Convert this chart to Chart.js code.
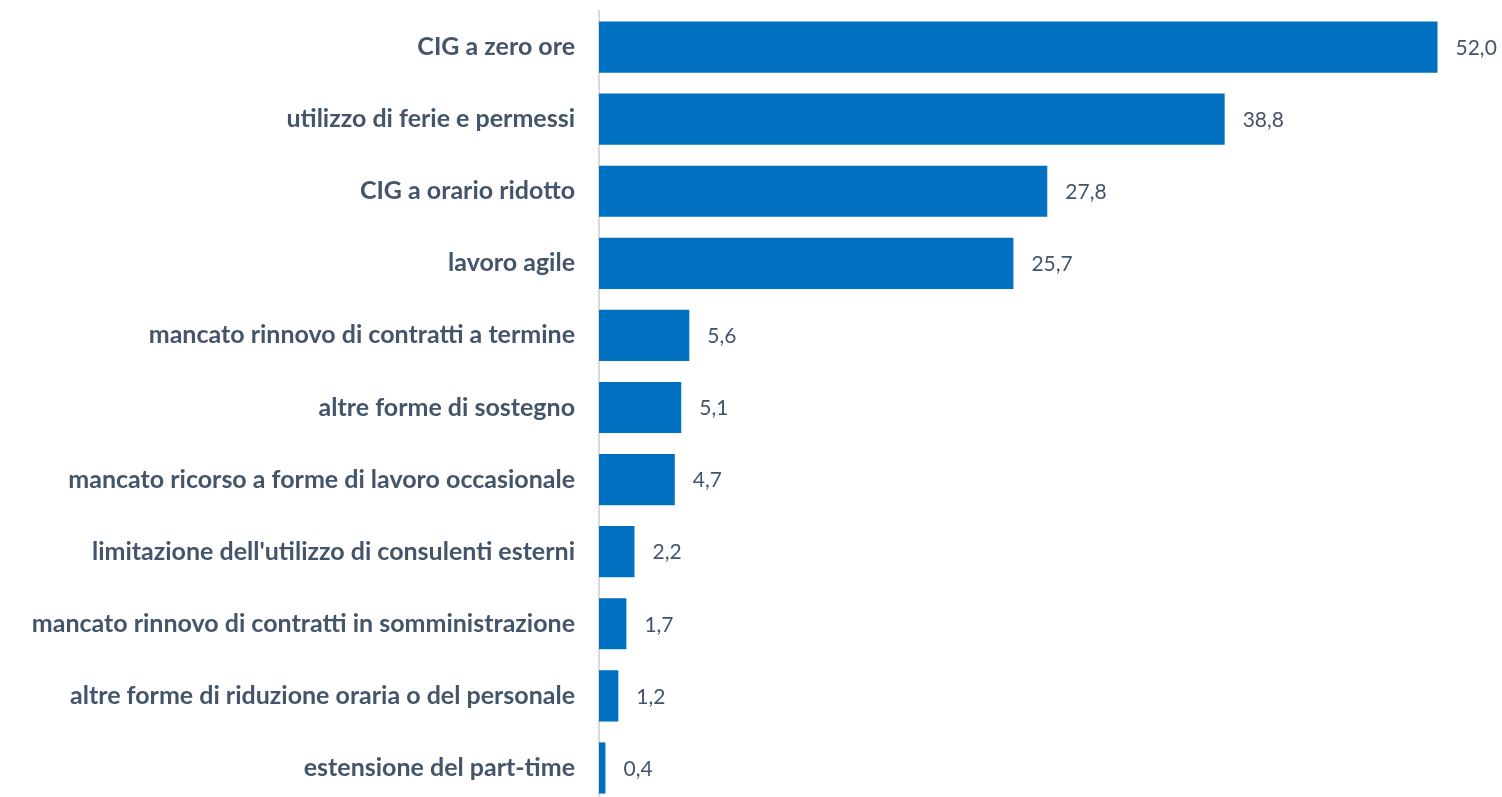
<!DOCTYPE html>
<html>
<head>
<meta charset="utf-8">
<script src="https://cdn.jsdelivr.net/npm/chart.js@4.4.0/dist/chart.umd.min.js"></script>
<style>
  html, body { margin: 0; padding: 0; background: #fff; overflow: hidden; }
  canvas { display: block; }
</style>
</head>
<body>
<canvas id="chart" width="1502" height="804"></canvas>
<script>
// categorie e valori (%)
const categories = [
  'CIG a zero ore',
  'utilizzo di ferie e permessi',
  'CIG a orario ridotto',
  'lavoro agile',
  'mancato rinnovo di contratti a termine',
  'altre forme di sostegno',
  'mancato ricorso a forme di lavoro occasionale',
  "limitazione dell'utilizzo di consulenti esterni",
  'mancato rinnovo di contratti in somministrazione',
  'altre forme di riduzione oraria o del personale',
  'estensione del part-time'
];
const values = [52.0, 38.8, 27.8, 25.7, 5.6, 5.1, 4.7, 2.2, 1.7, 1.2, 0.4];

const labelColor = '#44546A';

// etichette valori a destra delle barre
const valueLabels = {
  id: 'valueLabels',
  afterDatasetsDraw(chart) {
    const c = chart.ctx;
    const meta = chart.getDatasetMeta(0);
    c.save();
    c.font = '21px Lato, "Open Sans", sans-serif';
    c.fillStyle = labelColor;
    c.textAlign = 'left';
    c.textBaseline = 'middle';
    meta.data.forEach((bar, i) => {
      c.fillText(values[i].toFixed(1).replace('.', ','), bar.x + 18, bar.y + 1);
    });
    c.restore();
  }
};

new Chart(document.getElementById('chart'), {
  type: 'bar',
  data: {
    labels: categories,
    datasets: [{
      data: values,
      backgroundColor: '#0070C0',
      borderWidth: 0,
      barPercentage: 0.71,
      categoryPercentage: 1.0
    }]
  },
  options: {
    indexAxis: 'y',
    responsive: false,
    animation: false,
    layout: { padding: { top: 11, bottom: 0, left: 0, right: 0 } },
    plugins: { legend: { display: false }, tooltip: { enabled: false } },
    scales: {
      x: {
        min: 0,
        max: 56,
        display: false
      },
      y: {
        grid: { display: false, drawTicks: false },
        border: { display: true, color: '#D9D9D9', width: 2 },
        afterFit(scale) {
          scale.width = 599;
          scale.paddingTop = 0;
          scale.paddingBottom = 0;
        },
        ticks: {
          color: labelColor,
          padding: 24,
          font: { family: 'Lato, "Open Sans", sans-serif', size: 25, weight: 'bold' }
        }
      }
    }
  },
  plugins: [valueLabels]
});
</script>
</body>
</html>
